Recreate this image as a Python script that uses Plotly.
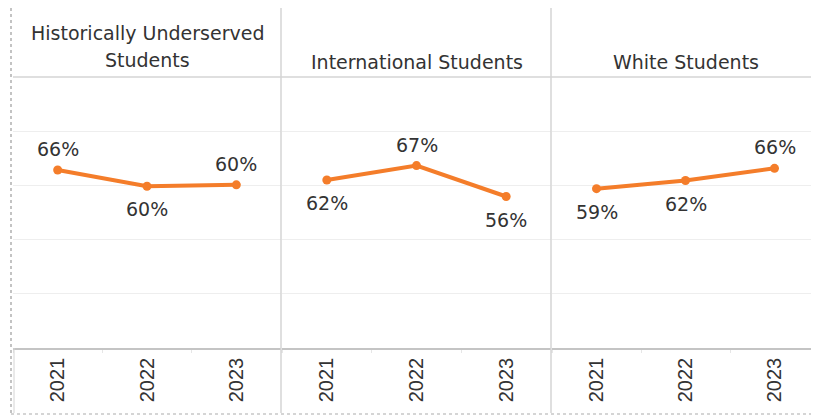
import plotly.graph_objects as go

# ---- data ----
years = ["2021", "2022", "2023"]
groups = ["Historically Underserved Students", "International Students", "White Students"]
underserved = [0.657, 0.597, 0.602]
international = [0.620, 0.673, 0.559]
white = [0.588, 0.618, 0.663]
series = [underserved, international, white]

# ---- styling ----
OFF = 8                     # page body margin of the html page
W, H = 819 - OFF, 417 - OFF
ORANGE = "#F47D2A"
TEXT = "#333333"
DIV = "#d4d4d4"
label_side = [["up", "down", "up"], ["down", "up", "down"], ["down", "down", "up"]]
title_lines = [["Historically Underserved", "Students"], ["International Students"], ["White Students"]]

panel_px = [(13, 281), (282, 551), (552, 819)]
top_px, bottom_px = 77, 348


def px_x(v):
    return (v - OFF) / W


def px_y(v):
    return 1 - (v - OFF) / H


fig = go.Figure()
annotations = []
shapes = []

for i, vals in enumerate(series):
    n = "" if i == 0 else str(i + 1)
    xa, ya = "x" + n, "y" + n
    fig.add_trace(go.Scatter(
        x=years, y=vals, mode="lines+markers",
        line=dict(color=ORANGE, width=4),
        marker=dict(color=ORANGE, size=9),
        xaxis=xa, yaxis=ya, showlegend=False, hoverinfo="skip",
        cliponaxis=False,
    ))
    x0, x1 = panel_px[i]
    fig.update_layout({
        "xaxis" + n: dict(
            domain=[px_x(x0), min(1, px_x(x1))], anchor=ya, type="category",
            range=[-0.5, 2.5], showgrid=False, zeroline=False,
            showline=True, linecolor="#c4c4c4", linewidth=1.5,
            ticks="outside", tickson="boundaries", ticklen=3, tickcolor="#e6e6e6",
            tickangle=-90, tickfont=dict(family="Liberation Sans, Arial", size=20, color=TEXT),
            fixedrange=True,
        ),
        "yaxis" + n: dict(
            domain=[px_y(bottom_px), px_y(top_px)], anchor=xa, range=[0, 1],
            tickvals=[0.2, 0.4, 0.6, 0.8], showticklabels=False, ticks="",
            showgrid=True, gridcolor="#eeeeee", gridwidth=1, zeroline=False,
            showline=False, fixedrange=True,
        ),
    })
    for j, v in enumerate(vals):
        up = label_side[i][j] == "up"
        annotations.append(dict(
            x=j, y=v, xref=xa, yref=ya, text=f"{round(v * 100)}%", showarrow=False,
            yshift=21 if up else -23,
            font=dict(family="DejaVu Sans", size=19, color=TEXT),
        ))
    # titles
    cx = px_x((x0 + x1) / 2)
    lines = title_lines[i]
    ys = [33, 60] if len(lines) == 2 else [62]
    for t, yy in zip(lines, ys):
        annotations.append(dict(
            x=cx, y=px_y(yy), xref="paper", yref="paper", text=t, showarrow=False,
            xanchor="center", yanchor="middle",
            font=dict(family="DejaVu Sans", size=19, color=TEXT),
        ))

# dividers and borders
for xv in (281, 551):
    shapes.append(dict(type="line", xref="paper", yref="paper",
                       x0=px_x(xv), x1=px_x(xv), y0=px_y(8), y1=px_y(413),
                       line=dict(color=DIV, width=1.5)))
shapes.append(dict(type="line", xref="paper", yref="paper",
                   x0=px_x(13), x1=1, y0=px_y(77), y1=px_y(77),
                   line=dict(color=DIV, width=1.5)))
shapes.append(dict(type="line", xref="paper", yref="paper",
                   x0=px_x(11), x1=px_x(11), y0=1, y1=px_y(414),
                   line=dict(color="#b0b0b0", width=1.5, dash="dot")))
shapes.append(dict(type="line", xref="paper", yref="paper",
                   x0=px_x(11), x1=1, y0=px_y(414), y1=px_y(414),
                   line=dict(color="#c8c8c8", width=1.5, dash="dot")))
shapes.append(dict(type="line", xref="paper", yref="paper",
                   x0=px_x(14), x1=px_x(14), y0=px_y(348), y1=px_y(413),
                   line=dict(color=DIV, width=1)))

fig.update_layout(
    width=W, height=H, margin=dict(l=0, r=0, t=0, b=0),
    paper_bgcolor="white", plot_bgcolor="white",
    annotations=annotations, shapes=shapes,
)

fig.write_html("out.html", config={"displayModeBar": False})
